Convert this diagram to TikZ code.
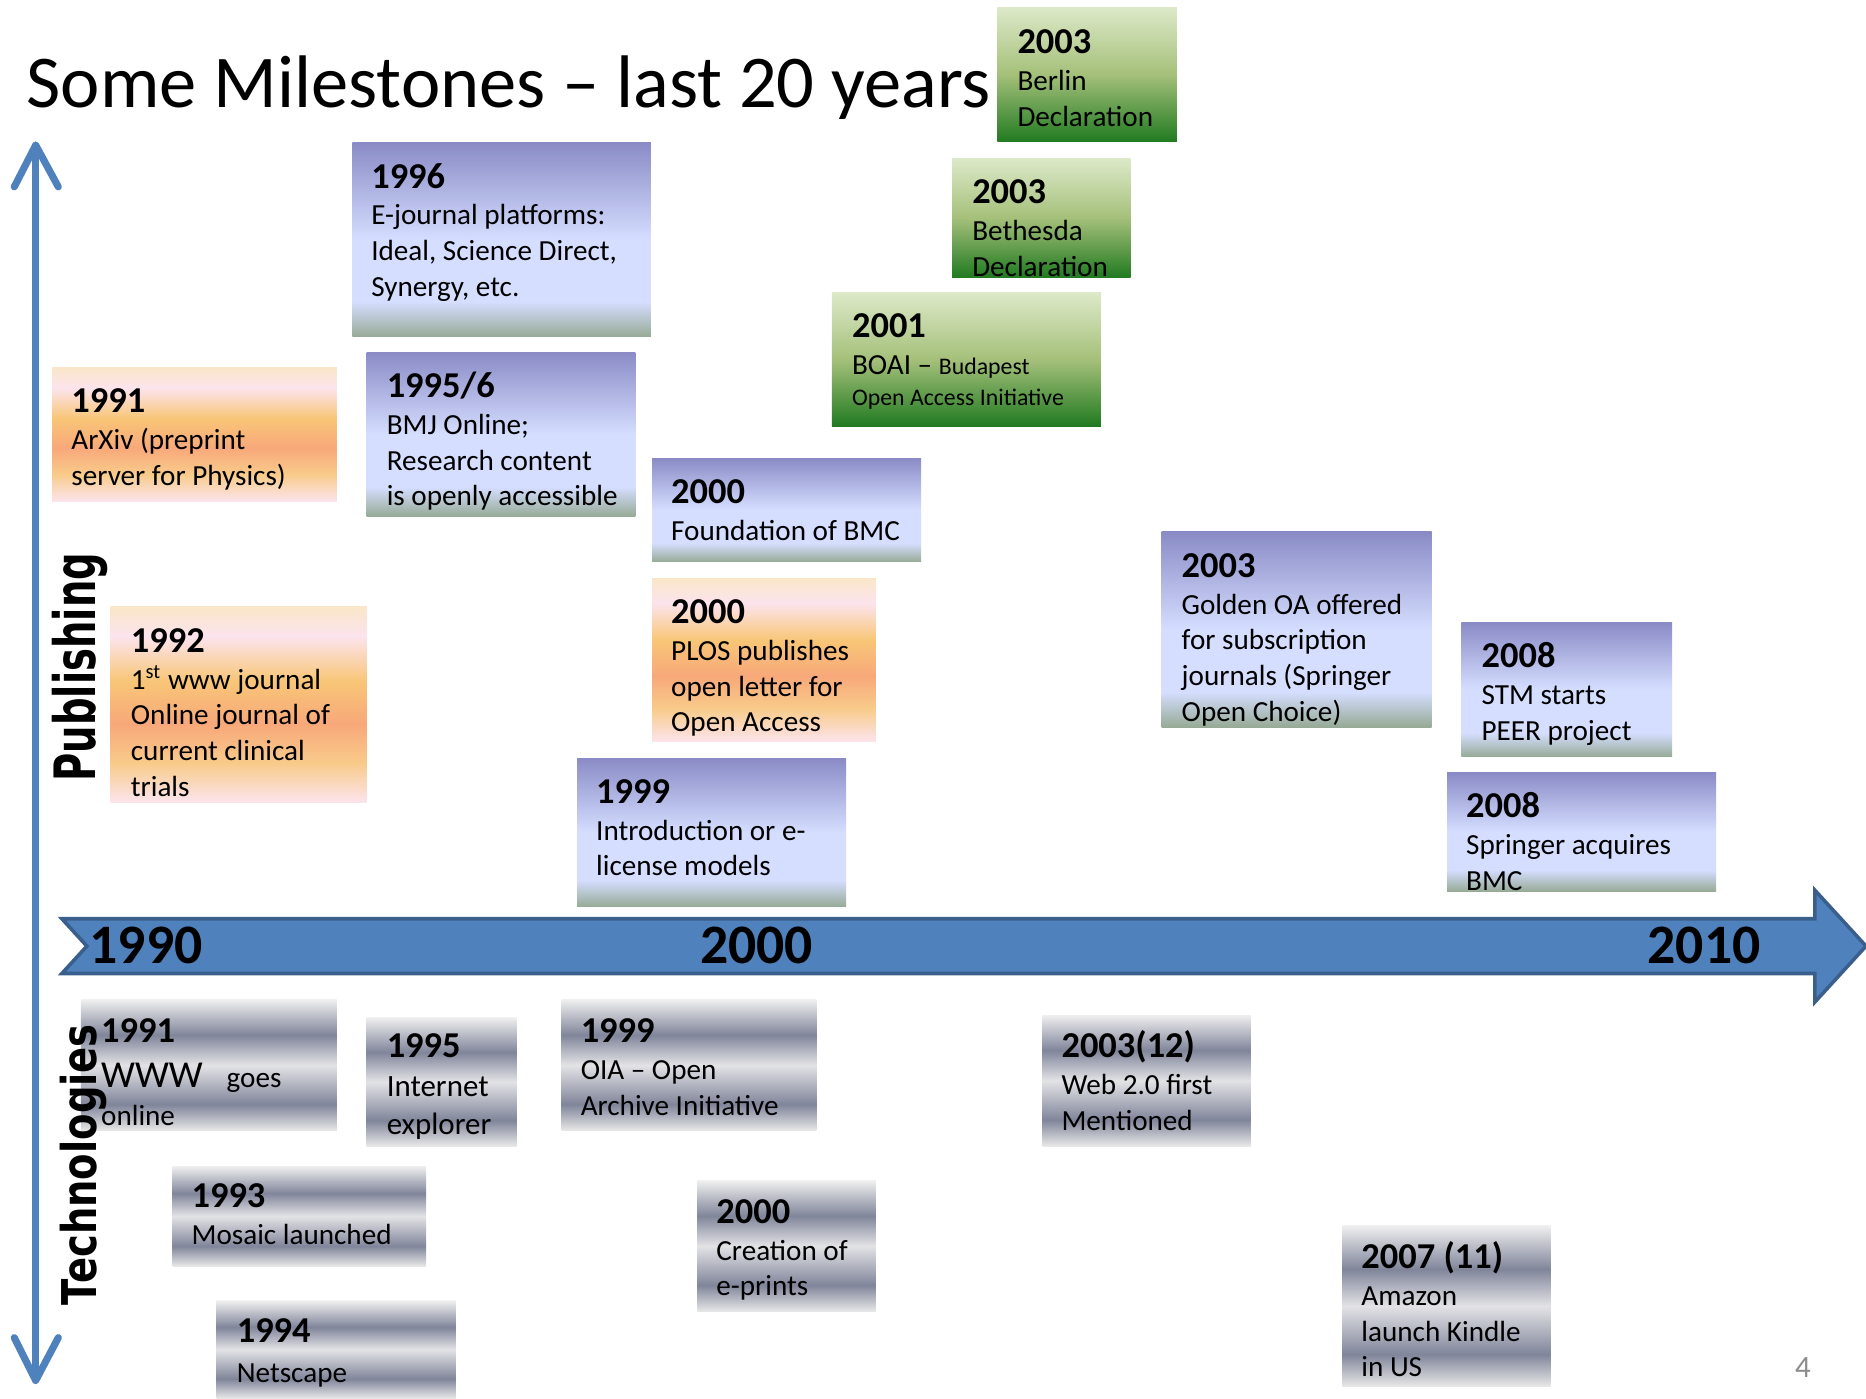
\documentclass[tikz,border=0pt]{standalone}
\usepackage{fontspec}
\setmainfont{Carlito}
\newfontfamily\labfont{DejaVu Sans}
\usepackage{graphicx}
\definecolor{tlblue}{HTML}{4F81BD}
\definecolor{tlborder}{HTML}{3A5F8C}
\definecolor{axisblue}{HTML}{4F81BD}
\definecolor{pgT}{HTML}{8A8BC6}
\definecolor{pgL}{HTML}{D5DEFF}
\definecolor{pgB}{HTML}{96AA96}
\definecolor{orA}{HTML}{FAE6C8}
\definecolor{orB}{HTML}{FCE4EE}
\definecolor{orC}{HTML}{F8C677}
\definecolor{orD}{HTML}{F8A87A}
\definecolor{orE}{HTML}{F8CB8A}
\definecolor{orF}{HTML}{FCE4EC}
\definecolor{grA}{HTML}{DDE9C9}
\definecolor{grB}{HTML}{A5C07A}
\definecolor{grC}{HTML}{217A21}
\definecolor{gyA}{HTML}{EFEFEF}
\definecolor{gyD}{HTML}{80859A}
\definecolor{gyL}{HTML}{E3E3E6}
\definecolor{gyB}{HTML}{E8E8E8}
\definecolor{pagegray}{HTML}{8C8C8C}
\pgfdeclareverticalshading{purpleg}{100bp}{color(0bp)=(pgB); color(25bp)=(pgB); color(34bp)=(pgL); color(50bp)=(pgL); color(75bp)=(pgT); color(100bp)=(pgT)}
\pgfdeclareverticalshading{orangeg}{100bp}{color(0bp)=(orF); color(25bp)=(orF); color(35bp)=(orE); color(45bp)=(orD); color(56bp)=(orC); color(67.5bp)=(orB); color(75bp)=(orA); color(100bp)=(orA)}
\pgfdeclareverticalshading{greeng}{100bp}{color(0bp)=(grC); color(25bp)=(grC); color(50bp)=(grB); color(75bp)=(grA); color(100bp)=(grA)}
\pgfdeclareverticalshading{grayg}{100bp}{color(0bp)=(gyB); color(25bp)=(gyB); color(35bp)=(gyD); color(50bp)=(gyL); color(61.5bp)=(gyD); color(75bp)=(gyA); color(100bp)=(gyA)}
\newcommand{\yr}[1]{\rule{0pt}{13pt}{\fontsize{15.3}{15}\selectfont\bfseries #1}}
\begin{document}
\begin{tikzpicture}[x=0.5pt,y=-0.5pt,
  txt/.style={anchor=north west, inner sep=0pt, outer sep=0pt, align=left, font=\fontsize{12.25}{15}\selectfont},
  pub/.style={shading=purpleg},
  org/.style={shading=orangeg},
  grn/.style={shading=greeng},
  gry/.style={shading=grayg},
  yearlbl/.style={anchor=base west, inner sep=0pt, font=\fontsize{23.4}{24}\selectfont\bfseries},
  axisline/.style={draw=axisblue, line width=3pt, line cap=round, line join=round}]
\useasboundingbox (0,0) rectangle (1568,1175);

% title
\node[anchor=base west, inner sep=0pt, font=\fontsize{31.3}{36}\selectfont] (title) at (22,90) {Some Milestones – last 20 years};

% vertical axis
\coordinate (vtop) at (30,122);
\coordinate (vbot) at (30,1160);
\draw[axisline] (vtop) -- (vbot);
\draw[axisline] (12,157) -- (vtop) -- (49,157);
\draw[axisline] (12,1124) -- (vbot) -- (49,1124);

% timeline arrow
\filldraw[fill=tlblue, draw=tlborder, line width=1.5pt] (52,772) -- (1525,772) -- (1525,748) -- (1568,795) -- (1525,842) -- (1525,818) -- (52,818) -- (73,795) -- cycle;
\node[yearlbl] (y1990) at (75,810) {1990};
\node[yearlbl] (y2000) at (588,810) {2000};
\node[yearlbl] (y2010) at (1384,810) {2010};

% publishing boxes
\shade[grn] (838,6) rectangle (989,119);
\node[txt] (berlin) at (855,19) {\yr{2003}\\[0.5pt] Berlin\\ Declaration};

\shade[grn] (800,133) rectangle (950,233);
\node[txt] (bethesda) at (817,145) {\yr{2003}\\[0.5pt] Bethesda\\ Declaration};

\shade[grn] (699,246) rectangle (925,358);
\node[txt] (boai) at (716,258) {\yr{2001}\\[0.5pt] BOAI – {\fontsize{10}{13}\selectfont Budapest}\\[-2pt] {\fontsize{10}{13}\selectfont Open Access Initiative}};

\shade[pub] (296,120) rectangle (547,283);
\node[txt] (ejournal) at (312,132) {\yr{1996}\\[0.5pt] E-journal platforms:\\ Ideal, Science Direct,\\ Synergy, etc.};

\shade[pub] (308,296) rectangle (534,434);
\node[txt] (bmj) at (325,308) {\yr{1995/6}\\[0.5pt] BMJ Online;\\ Research content\\ is openly accessible};

\shade[org] (44,309) rectangle (283,421);
\node[txt] (arxiv) at (60,321) {\yr{1991}\\[0.5pt] ArXiv (preprint\\ server for Physics)};

\shade[pub] (548,385) rectangle (774,472);
\node[txt] (bmc) at (564,397) {\yr{2000}\\[0.5pt] Foundation of BMC};

\shade[org] (548,486) rectangle (736,623);
\node[txt] (plos) at (564,498) {\yr{2000}\\[0.5pt] PLOS publishes\\ open letter for\\ Open Access};

\shade[org] (93,510) rectangle (308,674);
\node[txt] (wwwj) at (110,522) {\yr{1992}\\[0.5pt] 1\textsuperscript{st} www journal\\ Online journal of\\ current clinical\\ trials};

\shade[pub] (485,637) rectangle (711,762);
\node[txt] (elic) at (501,649) {\yr{1999}\\[0.5pt] Introduction or e-\\ license models};

\shade[pub] (976,447) rectangle (1203,611);
\node[txt] (golden) at (993,459) {\yr{2003}\\[0.5pt] Golden OA offered\\ for subscription\\ journals (Springer\\ Open Choice)};

\shade[pub] (1228,523) rectangle (1405,636);
\node[txt] (stm) at (1245,535) {\yr{2008}\\[0.5pt] STM starts\\ PEER project};

\shade[pub] (1216,649) rectangle (1442,749);
\node[txt] (springer) at (1232,661) {\yr{2008}\\[0.5pt] Springer acquires\\ BMC};

% technology boxes
\shade[gry] (68,840) rectangle (283,950);
\node[txt] (www) at (85,850) {\yr{1991}\\[4pt] {\fontsize{16}{15}\selectfont WWW}\hspace{10pt}goes\\[1pt] online};

\shade[gry] (308,855) rectangle (434,963);
\node[txt, font=\fontsize{13}{16}\selectfont] (ie) at (325,863) {\yr{1995}\\ Internet\\ explorer};

\shade[gry] (472,840) rectangle (686,950);
\node[txt] (oia) at (488,850) {\yr{1999}\\[0.5pt] OIA – Open\\ Archive Initiative};

\shade[gry] (876,853) rectangle (1051,963);
\node[txt] (web2) at (892,863) {\yr{2003(12)}\\[0.5pt] Web 2.0 first\\ Mentioned};

\shade[gry] (145,980) rectangle (358,1064);
\node[txt] (mosaic) at (161,989) {\yr{1993}\\[0.5pt] Mosaic launched};

\shade[gry] (586,992) rectangle (736,1102);
\node[txt] (eprints) at (602,1002) {\yr{2000}\\[0.5pt] Creation of\\ e-prints};

\shade[gry] (182,1093) rectangle (383,1175);
\node[txt] (netscape) at (199,1102) {\yr{1994}\\[2pt] Netscape};

\shade[gry] (1128,1030) rectangle (1303,1165);
\node[txt] (kindle) at (1144,1040) {\yr{2007 (11)}\\[0.5pt] Amazon\\ launch Kindle\\ in US};

% axis labels
\node[rotate=90, anchor=base west, inner sep=0pt] (publishing) at (80,657) {\resizebox{96pt}{18.2pt}{\labfont\bfseries Publishing}};
\node[rotate=90, anchor=base west, inner sep=0pt] (technologies) at (81,1097) {\resizebox{118pt}{15.3pt}{\labfont\bfseries Technologies}};

% page number
\node[text=pagegray, font=\fontsize{13}{14}\selectfont] (pagenum) at (1515,1149) {4};
\end{tikzpicture}
\end{document}
